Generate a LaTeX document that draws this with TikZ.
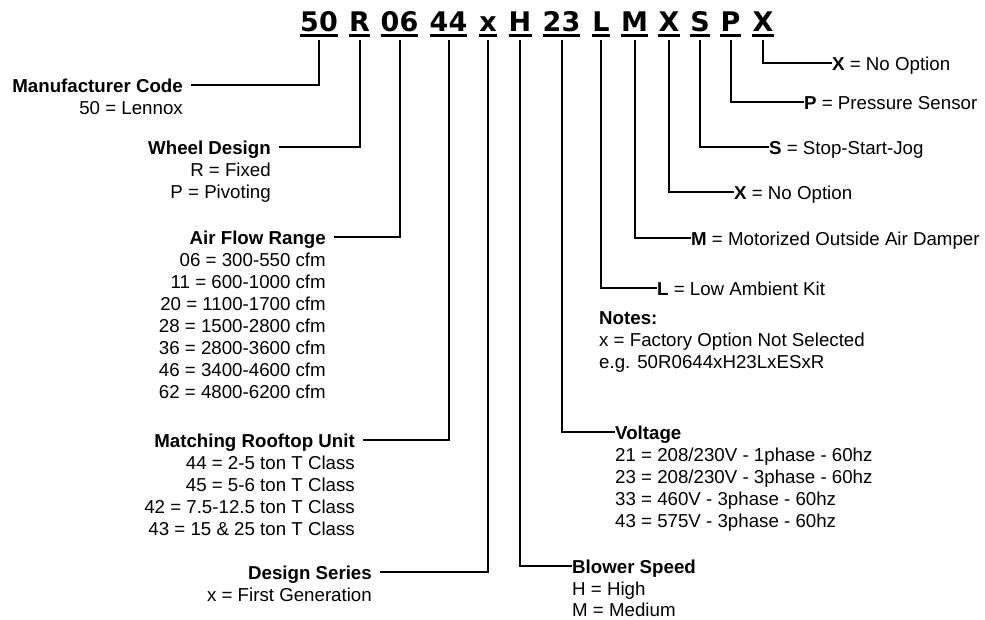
\documentclass[tikz,border=0pt]{standalone}
\usepackage{fontspec}
\setmainfont{Liberation Sans}
\newfontfamily\codefont{DejaVu Sans}
\newcommand{\fstrut}{\rule{0pt}{15pt}}

\begin{document}
\begin{tikzpicture}[x=1pt, y=-1pt,
    txt/.style={inner sep=0pt, font=\fontsize{18.7}{22}\selectfont},
    lefttxt/.style={txt, anchor=north east, align=right},
    righttxt/.style={txt, anchor=north west, align=left},
    code/.style={inner sep=0pt, anchor=base, font=\codefont\fontsize{27}{30}\selectfont\bfseries},
    conn/.style={line width=2pt},
    uline/.style={line width=2.2pt}]
    \useasboundingbox (0,0) rectangle (985,620);

    % model code, each part underlined
    \foreach \nm/\px/\ch in {c50/319/50, cR/359.5/R, c06/399.5/06, c44/448.5/44,
      cx/488/x, cH/520/H, c23/561.5/23, cL/601/L, cM/634.5/M, cXa/669/X,
      cS/700/S, cP/730.5/P, cXb/763/X} {
      \node[code] (\nm) at (\px, 32) {\ch};
      \draw[uline] ([yshift=-3.5pt]\nm.base west) -- ([yshift=-3.5pt]\nm.base east);
    }

    % left hand descriptions
    \node[lefttxt] (mfr) at (183, 77)
      {\fstrut\textbf{Manufacturer Code}\\50 = Lennox};
    \node[lefttxt] (wheel) at (271, 139)
      {\fstrut\textbf{Wheel Design}\\R = Fixed\\P = Pivoting};
    \node[lefttxt] (airflow) at (326, 229)
      {\fstrut\textbf{Air Flow Range}\\06 = 300-550 cfm\\11 = 600-1000 cfm\\
       20 = 1100-1700 cfm\\28 = 1500-2800 cfm\\36 = 2800-3600 cfm\\
       46 = 3400-4600 cfm\\62 = 4800-6200 cfm};
    \node[lefttxt] (rooftop) at (355, 432)
      {\fstrut\textbf{Matching Rooftop Unit}\\44 = 2-5 ton T Class\\
       45 = 5-6 ton T Class\\42 = 7.5-12.5 ton T Class\\43 = 15 \& 25 ton T Class};
    \node[lefttxt] (series) at (372, 564)
      {\fstrut\textbf{Design Series}\\x = First Generation};

    % right hand descriptions
    \node[righttxt] (optXb) at (832, 55) {\fstrut\textbf{X} = No Option};
    \node[righttxt] (optP) at (804, 94) {\fstrut\textbf{P} = Pressure Sensor};
    \node[righttxt] (optS) at (769, 139) {\fstrut\textbf{S} = Stop-Start-Jog};
    \node[righttxt] (optXa) at (734, 184) {\fstrut\textbf{X} = No Option};
    \node[righttxt] (optM) at (691, 230) {\fstrut\textbf{M} = Motorized Outside Air Damper};
    \node[righttxt] (optL) at (657, 280) {\fstrut\textbf{L} = Low Ambient Kit};
    \node[righttxt] (notes) at (599, 309)
      {\fstrut\textbf{Notes:}\\x = Factory Option Not Selected\\e.g. 50R0644xH23LxESxR};
    \node[righttxt] (voltage) at (615, 424)
      {\fstrut\textbf{Voltage}\\21 = 208/230V - 1phase - 60hz\\
       23 = 208/230V - 3phase - 60hz\\33 = 460V - 3phase - 60hz\\
       43 = 575V - 3phase - 60hz};
    \node[righttxt, font=\fontsize{18.7}{21.5}\selectfont] (blower) at (572, 558.5)
      {\fstrut\textbf{Blower Speed}\\H = High\\M = Medium};

    % leader lines
    \draw[conn] ([yshift=-8pt]c50.base) |- ([xshift=8pt,yshift=-8pt]mfr.north east);
    \draw[conn] ([yshift=-8pt]cR.base) |- ([xshift=8pt,yshift=-8pt]wheel.north east);
    \draw[conn] ([yshift=-8pt]c06.base) |- ([xshift=8pt,yshift=-8pt]airflow.north east);
    \draw[conn] ([yshift=-8pt]c44.base) |- ([xshift=8pt,yshift=-8pt]rooftop.north east);
    \draw[conn] ([yshift=-8pt]cx.base) |- ([xshift=8pt,yshift=-8pt]series.north east);
    \draw[conn] ([yshift=-8pt]cH.base) |- ([yshift=-7pt]blower.north west);
    \draw[conn] ([yshift=-8pt]c23.base) |- ([yshift=-8pt]voltage.north west);
    \draw[conn] ([yshift=-8pt]cL.base) |- ([yshift=-8pt]optL.north west);
    \draw[conn] ([yshift=-8pt]cM.base) |- ([yshift=-8pt]optM.north west);
    \draw[conn] ([yshift=-8pt]cXa.base) |- ([yshift=-8pt]optXa.north west);
    \draw[conn] ([yshift=-8pt]cS.base) |- ([yshift=-8pt]optS.north west);
    \draw[conn] ([yshift=-8pt]cP.base) |- ([yshift=-8pt]optP.north west);
    \draw[conn] ([yshift=-8pt]cXb.base) |- ([yshift=-8pt]optXb.north west);
\end{tikzpicture}
\end{document}
